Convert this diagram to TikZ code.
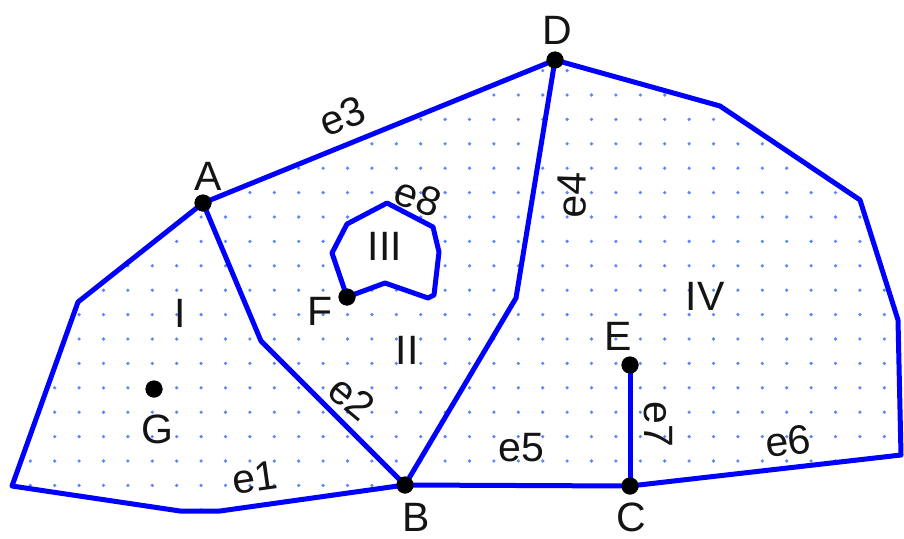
\documentclass[tikz,border=0pt]{standalone}
\usepackage{fontspec}
\setmainfont{Liberation Sans}
\definecolor{edgeblue}{RGB}{0,0,255}
\definecolor{dotblue}{RGB}{90,135,255}
\definecolor{labelgray}{RGB}{20,20,20}
\begin{document}
\begin{tikzpicture}[x=1pt,y=-1pt,
  edge/.style={draw=edgeblue,line width=5pt,line join=round,line cap=round},
  vertex/.style={circle,fill=black,inner sep=0pt,minimum size=17pt},
  lbl/.style={inner sep=0pt,text=labelgray,font=\fontsize{41}{41}\selectfont}]
\useasboundingbox (0,0) rectangle (904,538);
% corner and bend points
\coordinate (L1) at (12,486);
\coordinate (L2) at (78,302);
\coordinate (R1) at (720,106);
\coordinate (R2) at (860,200);
\coordinate (R3) at (898,320);
\coordinate (R4) at (901,455);
\coordinate (b1) at (220,511);
\coordinate (b2) at (180,511);
\coordinate (K2) at (261,341);
\coordinate (K4) at (516,298);
\coordinate (f1) at (332,253);
\coordinate (f2) at (347,224);
\coordinate (f3) at (387,203);
\coordinate (f4) at (433,227);
\coordinate (f5) at (439,252);
\coordinate (f6) at (434,295);
\coordinate (f7) at (428,298);
\coordinate (f8) at (385,283);
\coordinate (Ap) at (203,203);
\coordinate (Dp) at (555,60);
\coordinate (Bp) at (405,485);
\coordinate (Cp) at (630,486);
\coordinate (Fp) at (347,297);
% dot grid
\begin{scope}[even odd rule]
\clip (L1) -- (L2) -- (Ap) -- (Dp) -- (R1) -- (R2) -- (R3) -- (R4) -- (Cp) -- (Bp) -- (b1) -- (b2) -- cycle
  (Fp) -- (f1) -- (f2) -- (f3) -- (f4) -- (f5) -- (f6) -- (f7) -- (f8) -- cycle;
\foreach \i in {0,...,37}{
  \foreach \j in {0,...,21}{
    \fill[dotblue] (5.9+24.4*\i,21.8+24.4*\j) circle (1.8pt);
  }
}
\end{scope}
% vertices
\node[vertex] (A) at (Ap) {};
\node[vertex] (D) at (Dp) {};
\node[vertex] (B) at (Bp) {};
\node[vertex] (C) at (Cp) {};
\node[vertex] (E) at (630,365) {};
\node[vertex] (F) at (Fp) {};
\node[vertex] (G) at (154,389) {};
% edges
\draw[edge] (B.center) -- (b1) -- (b2) -- (L1) -- (L2) -- (A.center);
\draw[edge] (A.center) -- (K2) -- (B.center);
\draw[edge] (A.center) -- (D.center);
\draw[edge] (D.center) -- (K4) -- (B.center);
\draw[edge] (B.center) -- (C.center);
\draw[edge] (C.center) -- (R4) -- (R3) -- (R2) -- (R1) -- (D.center);
\draw[edge] (E.center) -- (C.center);
\draw[edge] (F.center) -- (f1) -- (f2) -- (f3) -- (f4) -- (f5) -- (f6) -- (f7) -- (f8) -- (F.center);
% redraw vertex dots on top
\foreach \v in {A,B,C,D,E,F,G}{\fill[black] (\v) circle (8.5pt);}
% vertex labels
\node[lbl] (lA) at (208,176) {A};
\node[lbl] (lD) at (557,30) {D};
\node[lbl] (lB) at (416,517) {B};
\node[lbl] (lC) at (631,517) {C};
\node[lbl] (lE) at (618,336) {E};
\node[lbl] (lF) at (320,311) {F};
\node[lbl] (lG) at (157,429) {G};
% region labels
\node[lbl] (rI) at (180,313) {I};
\node[lbl] (rII) at (407,350) {II};
\node[lbl] (rIII) at (385,246) {III};
\node[lbl] (rIV) at (705,296) {IV};
% edge labels
\node[lbl,rotate=8] (le1) at (255,478) {e1};
\node[lbl,rotate=-40] (le2) at (352,398) {e2};
\node[lbl,rotate=22] (le3) at (342,116) {e3};
\node[lbl,rotate=88] (le4) at (572,195) {e4};
\node[lbl] (le5) at (521,448) {e5};
\node[lbl,rotate=7] (le6) at (788,441) {e6};
\node[lbl,rotate=-90] (le7) at (658,424) {e7};
\node[lbl,rotate=-20] (le8) at (418,197) {e8};
\end{tikzpicture}
\end{document}
